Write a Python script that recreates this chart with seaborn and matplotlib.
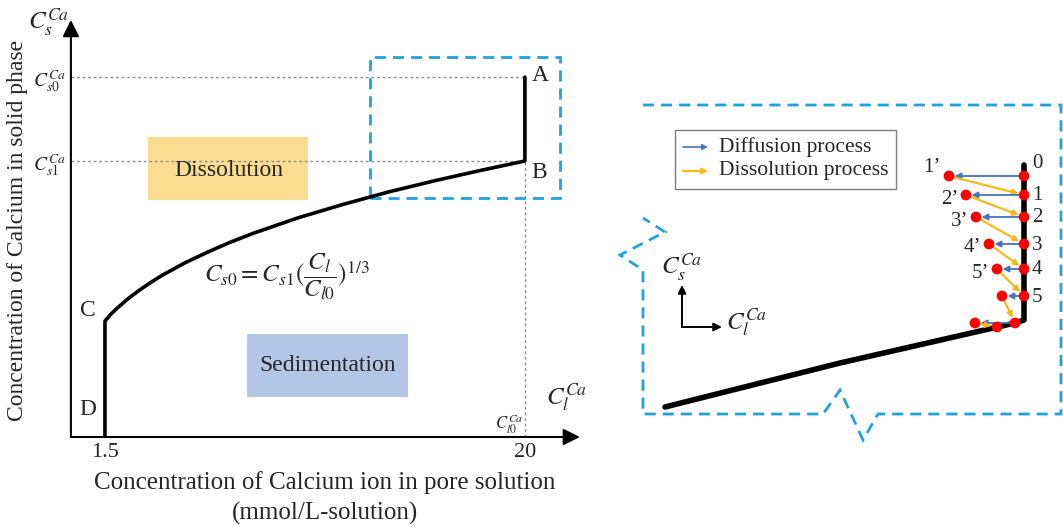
import matplotlib
matplotlib.use("Agg")
import matplotlib.pyplot as plt
import seaborn as sns
from matplotlib.patches import Rectangle, Polygon

# left panel: equilibrium curve (C_l in mmol/L, C_s relative to C_s1)
cl_curve = [1.5, 1.5, 1.75, 2, 2.5, 3, 3.5, 4, 5, 6, 7, 8, 10, 12, 14, 16, 18, 20, 20]
cs_curve = [0.0, 0.42, 0.444, 0.464, 0.50, 0.531, 0.559, 0.585, 0.63, 0.669, 0.705,
            0.737, 0.794, 0.843, 0.888, 0.928, 0.965, 1.0, 1.304]
cs0, cs1, cl0, cl_min = 1.304, 1.0, 20, 1.5
zoom_box = [13.17, 0.866, 21.55, 1.377]   # x0, y0, x1, y1

# right panel (inset units): stepwise diffusion / dissolution points
inset_line_u = [65, 240, 415, 424, 424]
inset_line_v = [43, 87, 127, 130, 285]
right_u = 424
right_v = [274, 255, 233, 206, 181, 154]
left_u = [349, 366, 376, 389, 397, 402]
corner = (415, 127)
bottom_left = (375, 127)
bottom_mid = (397, 123)
step_labels = ["0", "1", "2", "3", "4", "5"]
prime_labels = ["1\u2019", "2\u2019", "3\u2019", "4\u2019", "5\u2019"]
outline_u = [43, 461, 461, 278, 263, 240, 223, 43, 43, 20, 65, 43, 43]
outline_v = [345, 345, 36, 36, 10, 60, 36, 36, 180, 195, 218, 232, 345]

sns.set_theme(style="white")
plt.rcParams["font.family"] = ["Liberation Serif", "DejaVu Serif"]
plt.rcParams["mathtext.fontset"] = "stix"

BLUE_DASH = "#1fa3dc"
ORANGE = "#f6b917"
ARROW_BLUE = "#4472c4"

fig = plt.figure(figsize=(10.63, 5.27), dpi=100)

# ---------------- left panel ----------------
ax = fig.add_axes([70.9 / 1063, (527 - 437) / 527, 509 / 1063, 417 / 527])
ax.set_xlim(0, 509 / 22.7)
ax.set_ylim(0, 417 / 276)
for s in ax.spines.values():
    s.set_visible(False)

sns.lineplot(x=cl_curve, y=cs_curve, sort=False, estimator=None, color="black",
             lw=2.6, ax=ax, zorder=4)

dot = dict(color="#8c8c8c", lw=1, ls=(0, (2, 2)), zorder=2)
ax.plot([0, cl0], [cs0, cs0], **dot)
ax.plot([0, cl0], [cs1, cs1], **dot)
ax.plot([cl0, cl0], [0, cs1], **dot)

# axes arrows
arr = dict(arrowstyle="-|>", mutation_scale=25, lw=1.5, color="black", shrinkA=0, shrinkB=0)
ax.annotate("", xy=(509 / 22.7, 0), xytext=(0, 0), arrowprops=arr, annotation_clip=False)
ax.annotate("", xy=(0, 417 / 276), xytext=(0, 0), arrowprops=arr, annotation_clip=False)

ax.set_xticks([cl_min, cl0])
ax.set_xticklabels(["1.5", "20"], fontsize=16)
ax.set_yticks([cs1, cs0])
ax.set_yticklabels([r"$C_{s1}^{Ca}$", r"$C_{s0}^{Ca}$"], fontsize=14)
ax.tick_params(length=0, pad=4)

ax.add_patch(Rectangle((zoom_box[0], zoom_box[1]), zoom_box[2] - zoom_box[0],
                       zoom_box[3] - zoom_box[1], fill=False, ec=BLUE_DASH, lw=2,
                       ls=(0, (4, 2.5)), clip_on=False, zorder=3))
ax.add_patch(Rectangle((3.4, 0.859), 7.05, 0.228, fc="#fbdc91", ec="none", zorder=1))
ax.add_patch(Rectangle((7.76, 0.145), 7.1, 0.23, fc="#b3c6e6", ec="none", zorder=1))
ax.text(6.97, 0.967, "Dissolution", fontsize=17, ha="center", va="center", zorder=2)
ax.text(11.3, 0.26, "Sedimentation", fontsize=17, ha="center", va="center", zorder=2)
ax.text(9.5, 0.58, r"$C_{s0}=C_{s1}(\dfrac{C_l}{C_{l0}})^{1/3}$", fontsize=18,
        ha="center", va="center")

ax.text(20.3, 1.31, "A", fontsize=17, ha="left", va="center")
ax.text(20.3, 0.96, "B", fontsize=17, ha="left", va="center")
ax.text(0.75, 0.46, "C", fontsize=17, ha="center", va="center")
ax.text(0.75, 0.098, "D", fontsize=17, ha="center", va="center")
ax.text(-1.0, 1.50, r"$C_s^{Ca}$", fontsize=18, ha="center", va="center", clip_on=False)
ax.text(21.85, 0.141, r"$C_l^{Ca}$", fontsize=18, ha="center", va="center", clip_on=False)
ax.text(19.3, 0.045, r"$C_{l0}^{Ca}$", fontsize=12, ha="center", va="center")

fig.text(18 / 1063, 1 - 230 / 527, "Concentration of Calcium in solid phase",
         rotation=90, fontsize=17, ha="center", va="center")
fig.text(325 / 1063, 1 - 483 / 527, "Concentration of Calcium ion in pore solution",
         fontsize=18, ha="center", va="center")
fig.text(325 / 1063, 1 - 513 / 527, "(mmol/L-solution)", fontsize=18, ha="center",
         va="center")

# ---------------- right panel ----------------
ax2 = fig.add_axes([600 / 1063, 77 / 527, 463 / 1063, 360 / 527])
ax2.set_xlim(0, 463)
ax2.set_ylim(0, 360)
ax2.axis("off")

ax2.add_patch(Polygon(list(zip(outline_u, outline_v)), closed=False, fill=False,
                      ec=BLUE_DASH, lw=2, ls=(0, (4, 2.5)), clip_on=False))

sns.lineplot(x=inset_line_u, y=inset_line_v, sort=False, estimator=None, color="black",
             lw=4, ax=ax2, zorder=3)

blue_arr = dict(arrowstyle="-|>", mutation_scale=9, lw=1.3, color=ARROW_BLUE,
                shrinkA=3, shrinkB=4)
orange_arr = dict(arrowstyle="-|>", mutation_scale=8, lw=1.6, color=ORANGE,
                  shrinkA=3, shrinkB=4)

right_pts = [(right_u, v) for v in right_v] + [corner]
left_pts = [(u, v) for u, v in zip(left_u, right_v)]
for i, lp in enumerate(left_pts):
    ax2.annotate("", xy=lp, xytext=right_pts[i], arrowprops=blue_arr, zorder=4)
    ax2.annotate("", xy=right_pts[i + 1], xytext=lp, arrowprops=orange_arr, zorder=4)
ax2.annotate("", xy=bottom_left, xytext=corner, arrowprops=blue_arr, zorder=4)
ax2.annotate("", xy=bottom_mid, xytext=bottom_left, arrowprops=orange_arr, zorder=4)

dots_u = [p[0] for p in right_pts + left_pts] + [bottom_left[0], bottom_mid[0]]
dots_v = [p[1] for p in right_pts + left_pts] + [bottom_left[1], bottom_mid[1]]
sns.scatterplot(x=dots_u, y=dots_v, color="#ff0000", s=60, edgecolor="none", ax=ax2,
                zorder=5)

for lab, v in zip(step_labels, right_v):
    ax2.text(right_u + 8, v + (12 if lab == "0" else -1), lab, fontsize=15,
             ha="left", va="center")
for lab, u, v in zip(prime_labels, left_u, right_v[:5]):
    ax2.text(u - 8, v + (9 if lab.startswith("1") else -4), lab, fontsize=15,
             ha="right", va="center")

# mini axes
mini = dict(arrowstyle="-|>", mutation_scale=12, lw=1.4, color="black", shrinkA=0, shrinkB=0)
ax2.annotate("", xy=(82, 165), xytext=(82, 123), arrowprops=mini)
ax2.annotate("", xy=(122, 123), xytext=(82, 123), arrowprops=mini)
ax2.text(82, 182, r"$C_s^{Ca}$", fontsize=18, ha="center", va="center")
ax2.text(126, 127, r"$C_l^{Ca}$", fontsize=18, ha="left", va="center")

# legend
ax2.add_patch(Rectangle((75, 261), 221, 59, fill=False, ec="#7f7f7f", lw=1))
ax2.annotate("", xy=(108, 303), xytext=(83, 303),
             arrowprops=dict(arrowstyle="-|>", mutation_scale=8, lw=1.2,
                             color=ARROW_BLUE, shrinkA=0, shrinkB=0))
ax2.annotate("", xy=(108, 279), xytext=(83, 279),
             arrowprops=dict(arrowstyle="-|>", mutation_scale=8, lw=1.6,
                             color=ORANGE, shrinkA=0, shrinkB=0))
ax2.text(119, 303, "Diffusion process", fontsize=15.5, ha="left", va="center")
ax2.text(119, 279, "Dissolution process", fontsize=15.5, ha="left", va="center")

fig.savefig("out.png", dpi=100)
